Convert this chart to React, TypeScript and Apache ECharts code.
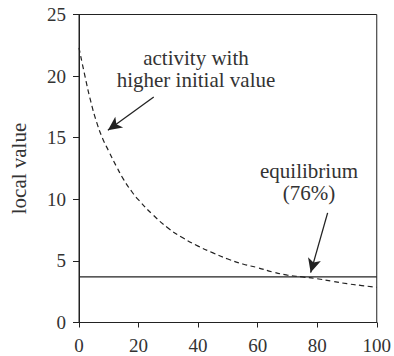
import React, { useEffect, useRef } from "react";
import * as echarts from "echarts";

const xTicks = [0, 20, 40, 60, 80, 100];
const yTicks = [0, 5, 10, 15, 20, 25];
const curveX = [0, 2, 4, 6, 8, 10, 12.5, 15, 17.5, 20, 25, 30, 35, 40, 45, 50, 55, 60, 65, 70, 75, 80, 85, 90, 95, 100];
const curveY = [22.3, 20.0, 17.9, 16.2, 14.9, 13.9, 12.7, 11.6, 10.7, 9.95, 8.7, 7.65, 6.85, 6.2, 5.65, 5.15, 4.75, 4.45, 4.1, 3.85, 3.7, 3.55, 3.35, 3.15, 3.0, 2.85];
const equilibriumValue = 3.7;
const arrow1 = { from: [25.1, 18.3], to: [9.7, 15.6] };
const arrow2 = { from: [83.5, 8.9], to: [77.8, 4.05] };
const label1 = "activity with\nhigher initial value";
const label2 = "equilibrium\n(76%)";
const yName = "local value";

const FONT = "Liberation Serif";
const INK = "#222";
const TXT = "#333";

export default function App() {
  const ref = useRef<HTMLDivElement>(null);
  useEffect(() => {
    if (!ref.current) return;
    const chart = echarts.init(ref.current, null, { renderer: "svg" });
    const curve = curveX.map((x, i) => [x, curveY[i]]);
    chart.setOption({
      animation: false,
      textStyle: { fontFamily: FONT },
      grid: {
        left: 77,
        right: 7,
        top: 14.5,
        bottom: 33.5,
        show: true,
        borderColor: INK,
        borderWidth: 1,
      },
      xAxis: {
        type: "value",
        min: xTicks[0],
        max: xTicks[xTicks.length - 1],
        interval: 20,
        axisLine: { lineStyle: { color: INK, width: 1 } },
        axisTick: { show: true, length: 5, lineStyle: { color: INK } },
        splitLine: { show: false },
        axisLabel: { fontFamily: FONT, fontSize: 19, color: TXT, margin: 13 },
      },
      yAxis: {
        type: "value",
        min: yTicks[0],
        max: yTicks[yTicks.length - 1],
        interval: 5,
        name: yName,
        nameLocation: "middle",
        nameGap: 50,
        nameTextStyle: { fontFamily: FONT, fontSize: 21, color: TXT },
        axisLine: { show: true, lineStyle: { color: INK, width: 1 } },
        axisTick: { show: true, length: 6, lineStyle: { color: INK } },
        splitLine: { show: false },
        axisLabel: { fontFamily: FONT, fontSize: 19, color: TXT, margin: 13 },
      },
      series: [
        {
          type: "line",
          data: curve,
          smooth: true,
          showSymbol: false,
          lineStyle: { color: INK, width: 1.2, type: [5, 3.5] },
          markLine: {
            silent: true,
            symbol: ["none", "arrow"],
            symbolSize: [10, 14],
            label: { show: false },
            lineStyle: { color: INK, width: 1.3, type: "solid" },
            data: [
              [{ coord: arrow1.from }, { coord: arrow1.to }],
              [{ coord: arrow2.from }, { coord: arrow2.to }],
            ],
          },
        },
        {
          type: "line",
          data: [
            [xTicks[0], equilibriumValue],
            [xTicks[xTicks.length - 1], equilibriumValue],
          ],
          showSymbol: false,
          lineStyle: { color: INK, width: 1.2 },
        },
      ],
      graphic: [
        {
          type: "text",
          x: 196,
          y: 69,
          style: {
            text: label1,
            fontFamily: FONT,
            fontSize: 21,
            fill: TXT,
            align: "center",
            verticalAlign: "middle",
            lineHeight: 22,
          },
        },
        {
          type: "text",
          x: 309,
          y: 182,
          style: {
            text: label2,
            fontFamily: FONT,
            fontSize: 21,
            fill: TXT,
            align: "center",
            verticalAlign: "middle",
            lineHeight: 22,
          },
        },
      ],
    });
    return () => chart.dispose();
  }, []);
  return (
    <div
      ref={ref}
      style={{ position: "fixed", left: 0, top: 0, width: 394, height: 356, background: "#fff" }}
    />
  );
}
